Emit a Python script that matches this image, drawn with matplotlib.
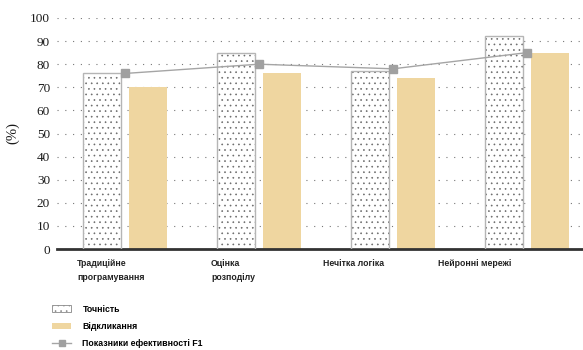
import matplotlib.pyplot as plt
import matplotlib.patches as mpatches
import matplotlib.lines as mlines
import matplotlib.transforms as mtransforms
import numpy as np

# Data
categories = ["Традиційне\nпрограмування", "Оцінка\nрозподілу", "Нечітка логіка", "Нейронні мережі"]
precision = [76, 85, 77, 92]
recall = [70, 76, 74, 85]
f1 = [76, 80, 78, 85]

label_offsets = [-0.36, -0.36, -0.52, -0.66]

tan = "#EFD6A0"
bar_w = 0.284
gap = 0.06

plt.rcParams["hatch.linewidth"] = 0.45

fig = plt.figure(figsize=(5.83, 3.5), dpi=100)
ax = fig.add_axes([57 / 583, 101 / 350, 1 - 57 / 583, 231 / 350])

x = np.arange(len(categories))
x_prec = x - gap / 2 - bar_w / 2
x_rec = x + gap / 2 + bar_w / 2

# Dotted bars (hatch drawn with edgecolor, outline drawn separately)
ax.bar(x_prec, precision, bar_w, color="white", edgecolor="#6a6a6a",
       linewidth=0, hatch="...", zorder=2)
ax.bar(x_prec, precision, bar_w, facecolor="none", edgecolor="#b5b5b5",
       linewidth=1, zorder=3)
ax.bar(x_rec, recall, bar_w, color=tan, linewidth=0, zorder=2)

ax.plot(x, f1, color="#a5a5a5", linewidth=1, marker="s", markersize=6,
        markerfacecolor="#a0a0a0", markeredgecolor="#a0a0a0", zorder=4)

ax.set_xlim(-0.51, 3.42)
ax.set_ylim(0, 100)
ax.set_yticks(range(0, 101, 10))
ax.yaxis.grid(True, linestyle=(0, (1, 6)), color="#777777", linewidth=0.8, zorder=0)
ax.set_axisbelow(True)
ax.set_xticks([])
ax.tick_params(axis="y", length=0, pad=5, labelsize=9.5)
for lbl in ax.get_yticklabels():
    lbl.set_fontfamily("Liberation Serif")
    lbl.set_color("#1a1a1a")

for side in ["left", "right", "top"]:
    ax.spines[side].set_visible(False)
ax.spines["bottom"].set_linewidth(2)
ax.spines["bottom"].set_color("#333333")

ax.set_ylabel("(%)", fontfamily="Liberation Serif", fontsize=10.5, labelpad=8, color="#1a1a1a")

# Category labels
trans = mtransforms.blended_transform_factory(ax.transData, ax.transAxes)
for xi, cat, off in zip(x, categories, label_offsets):
    ax.text(xi + off, -0.045, cat, transform=trans, ha="left", va="top",
            fontfamily="Liberation Sans", fontweight="bold", fontsize=6.3,
            color="#222222", linespacing=1.6)

# Legend
h1 = mpatches.Patch(facecolor="white", edgecolor="#888888", hatch="...", linewidth=0.6)
h2 = mpatches.Patch(facecolor=tan, edgecolor="none")
h3 = mlines.Line2D([], [], color="#a5a5a5", linewidth=1, marker="s", markersize=5,
                   markerfacecolor="#a0a0a0", markeredgecolor="#a0a0a0")
fig.legend([h1, h2, h3], ["Точність", "Відкликання", "Показники ефективності F1"],
           loc="upper left", bbox_to_anchor=(44 / 583, 1 - 297 / 350),
           frameon=False, handlelength=2.2, handleheight=0.8, handletextpad=1.3,
           labelspacing=0.95,
           prop={"family": "Liberation Sans", "weight": "bold", "size": 6.3})

fig.savefig("out.png", dpi=100)
